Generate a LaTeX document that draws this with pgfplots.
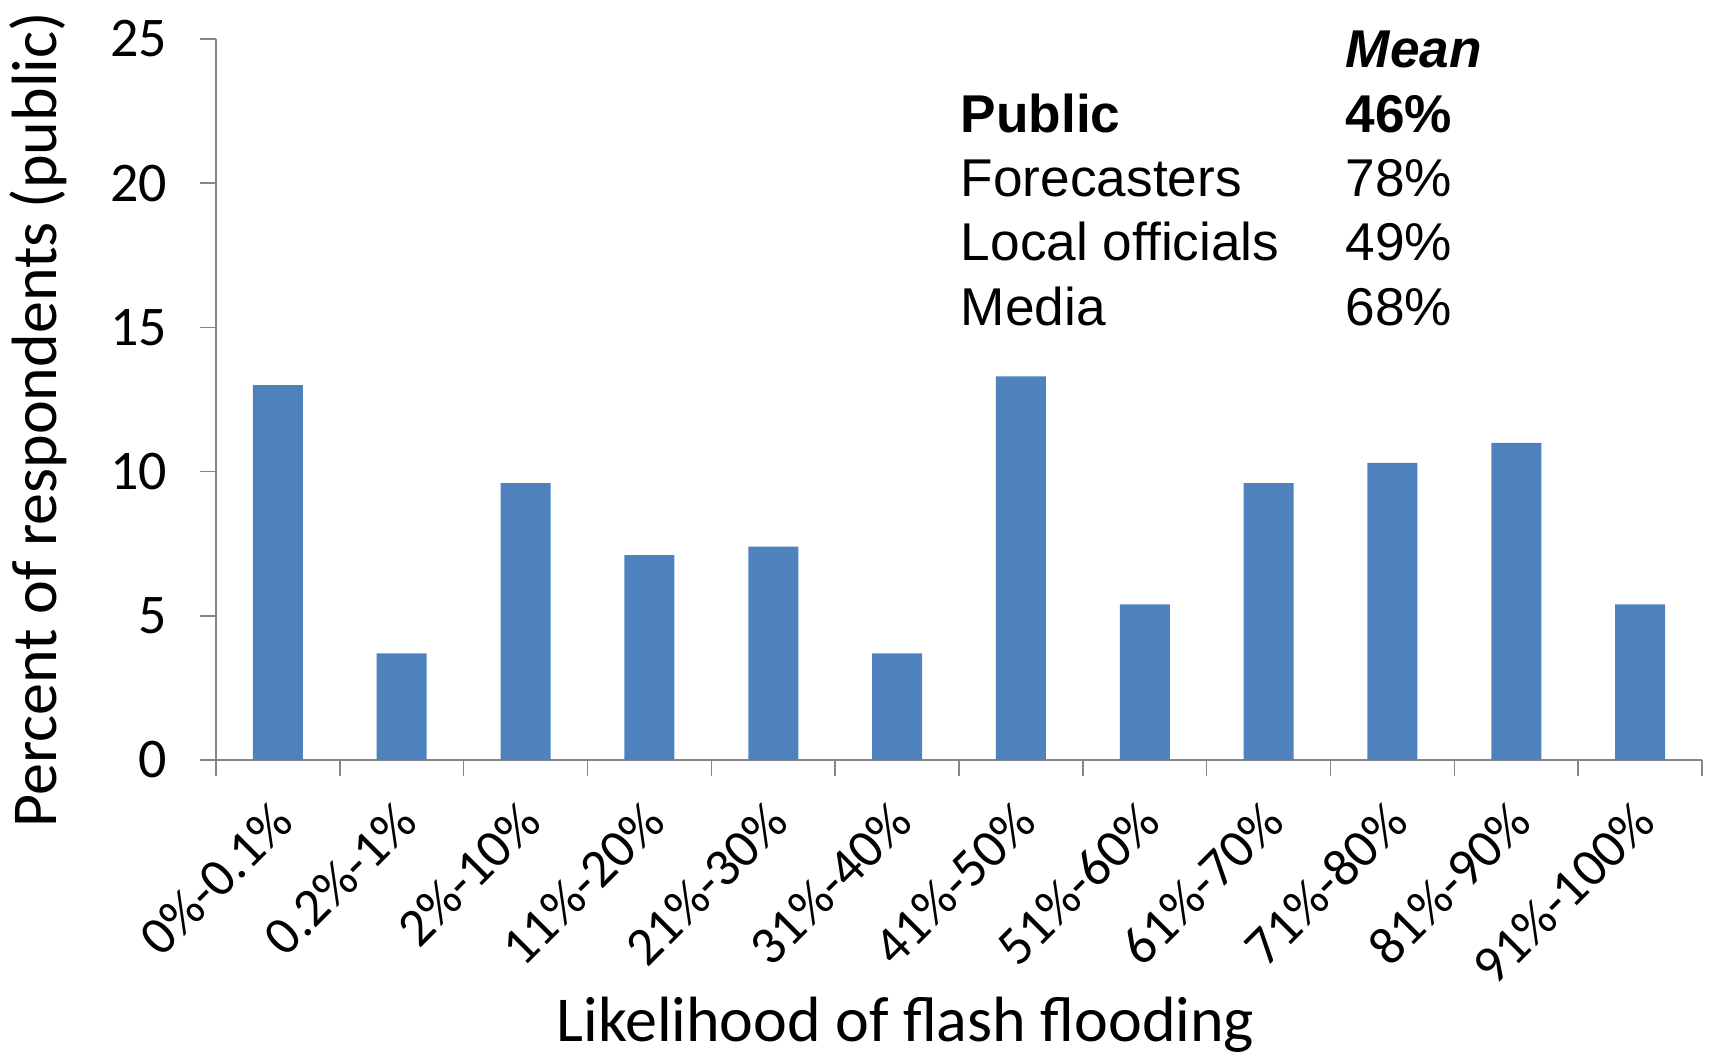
\documentclass[border=0pt]{standalone}
\usepackage{fontspec}
\setmainfont{Carlito}
\newfontfamily\arial{Liberation Sans}
\usepackage{pgfplots}
\pgfplotsset{compat=1.18}
\definecolor{barblue}{HTML}{4F81BD}
\definecolor{axgray}{HTML}{868686}
\begin{document}
\begin{tikzpicture}
\useasboundingbox (-108pt,-149.5pt) rectangle (748.5pt,380pt);
\begin{axis}[
  at={(0pt,0pt)}, anchor=south west,
  scale only axis, width=743pt, height=360.5pt,
  xmin=-0.5, xmax=11.5, ymin=0, ymax=25,
  axis x line*=bottom, axis y line*=left,
  axis line style={draw=axgray, line width=0.8pt},
  ybar, bar width=25pt,
  xtick={0,...,11},
  xticklabels={0\%-0.1\%,0.2\%-1\%,2\%-10\%,11\%-20\%,21\%-30\%,31\%-40\%,41\%-50\%,51\%-60\%,61\%-70\%,71\%-80\%,81\%-90\%,91\%-100\%},
  minor xtick={-0.5,0.5,...,11.5},
  ytick={0,5,...,25},
  tick align=outside,
  major tick length=8pt, minor tick length=8pt,
  xtick style={draw=none},
  minor x tick style={draw=axgray, line width=0.8pt},
  ytick style={draw=axgray, line width=0.8pt},
  /pgf/number format/assume math mode=true,
  yticklabel style={font=\fontsize{28}{32}\selectfont, xshift=-13pt},
  xticklabel style={font=\fontsize{27}{32}\selectfont, rotate=45, anchor=east, xshift=-7.4pt, yshift=-14.5pt},
  xlabel={Likelihood of flash flooding},
  ylabel={Percent of respondents (public)},
  label style={font=\fontsize{32}{38}\selectfont},
  xlabel style={at={(rel axis cs:0.464,-0.391)}, anchor=base},
  ylabel style={at={(rel axis cs:-0.1198,0.472)}, anchor=center},
  clip=false,
]
\addplot[fill=barblue, draw=none] coordinates {
  (0,13.0) (1,3.7) (2,9.6) (3,7.1) (4,7.4) (5,3.7)
  (6,13.3) (7,5.4) (8,9.6) (9,10.3) (10,11.0) (11,5.4)};
\begin{scope}[every node/.style={anchor=base west, inner sep=0pt, font=\arial\fontsize{26.6}{32}\selectfont}]
\node at (rel axis cs:0.760,0.960) {\bfseries\itshape Mean};
\node at (rel axis cs:0.501,0.870) {\bfseries Public};
\node at (rel axis cs:0.760,0.870) {\bfseries 46\%};
\node at (rel axis cs:0.501,0.781) {Forecasters};
\node at (rel axis cs:0.760,0.781) {78\%};
\node at (rel axis cs:0.501,0.693) {Local officials};
\node at (rel axis cs:0.760,0.693) {49\%};
\node at (rel axis cs:0.501,0.603) {Media};
\node at (rel axis cs:0.760,0.603) {68\%};
\end{scope}
\end{axis}
\end{tikzpicture}
\end{document}
